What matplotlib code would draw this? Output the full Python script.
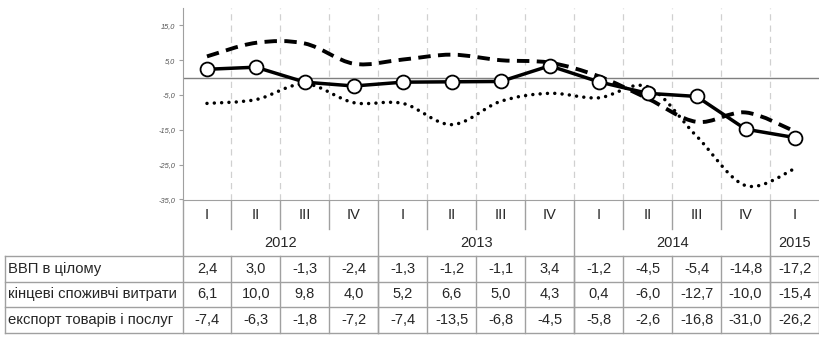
import numpy as np
import matplotlib.pyplot as plt
from matplotlib.path import Path
from matplotlib.patches import PathPatch

plt.rcParams['font.family'] = ['Liberation Sans', 'DejaVu Sans']

quarters = ["I", "II", "III", "IV", "I", "II", "III", "IV", "I", "II", "III", "IV", "I"]
years = ["2012", "2013", "2014", "2015"]
year_span = [4, 4, 4, 1]
row_names = ["ВВП в цілому", "кінцеві споживчі витрати", "експорт товарів і послуг"]
gdp = [2.4, 3.0, -1.3, -2.4, -1.3, -1.2, -1.1, 3.4, -1.2, -4.5, -5.4, -14.8, -17.2]
consumption = [6.1, 10.0, 9.8, 4.0, 5.2, 6.6, 5.0, 4.3, 0.4, -6.0, -12.7, -10.0, -15.4]
export = [-7.4, -6.3, -1.8, -7.2, -7.4, -13.5, -6.8, -4.5, -5.8, -2.6, -16.8, -31.0, -26.2]
yticks = [15, 5, -5, -15, -25, -35]


def fmt(v):
    return ("%.1f" % v).replace(".", ",")


def smooth_path(xs, ys):
    # excel-like smoothed line: bezier segments through the points
    p = np.column_stack([xs, ys]).astype(float)
    n = len(p)
    verts = [p[0]]
    codes = [Path.MOVETO]
    for i in range(n - 1):
        p0 = p[i - 1] if i > 0 else p[i]
        p3 = p[i + 2] if i + 2 < n else p[i + 1]
        c1 = p[i] + (p[i + 1] - p0) / 6
        c2 = p[i + 1] - (p3 - p[i]) / 6
        verts += [c1, c2, p[i + 1]]
        codes += [Path.CURVE4] * 3
    return Path(verts, codes)


W, H = 819, 340
top, bottom, left = 8, 199.5, 182.5
colw = (W - left) / len(quarters)
grey = "#a0a0a0"
txt = "#262626"

fig = plt.figure(figsize=(W / 100, H / 100), dpi=100)
ax = fig.add_axes([left / W, 1 - bottom / H, (W - left) / W, (bottom - top) / H])
x = np.arange(len(quarters))

ax.add_patch(PathPatch(smooth_path(x, consumption), fill=False, color="black", lw=2.8,
                       linestyle=(0, (3.2, 1.9)), capstyle="butt", zorder=3))
ax.add_patch(PathPatch(smooth_path(x, export), fill=False, color="black", lw=2.5,
                       linestyle=(0, (0.01, 2.1)), capstyle="round", zorder=3))
ax.plot(x, gdp, color="black", lw=2.5, marker="o", ms=10, mfc="white", mec="black",
        mew=1.3, zorder=4)

ax.axhline(0, color="#7f7f7f", lw=1, zorder=2)
for xv in x[:-1] + 0.5:
    ax.axvline(xv, color="#d0d0d0", lw=0.9, ls=(0, (5, 4)), zorder=1)

ax.set_xlim(-0.5, len(quarters) - 0.5)
ax.set_ylim(-35, 20)
ax.set_xticks([])
ax.set_yticks(yticks)
ax.set_yticklabels([fmt(v) for v in yticks], fontsize=5.3, style="italic", color="#555555")
ax.tick_params(axis="y", length=3, width=0.8, color=grey, pad=2)
for s in ["top", "right"]:
    ax.spines[s].set_visible(False)
ax.spines["left"].set_color(grey)
ax.spines["bottom"].set_color(grey)

# table under the chart (y in pixels from the top)
tab = fig.add_axes([0, 0, 1, 1 - bottom / H])
tab.set_xlim(-0.5 - left / colw, len(quarters) - 0.5)
tab.set_ylim(H, bottom)
tab.axis("off")
lab_left = -0.5 - (left - 5) / colw
rows = [256, 281.5, 307, 333]

for i, q in enumerate(quarters):
    tab.text(i, 215, q, ha="center", va="center", fontsize=10.5, color=txt)

start = 0
for yr, span in zip(years, year_span):
    tab.text(start + span / 2 - 0.5, 243, yr, ha="center", va="center", fontsize=10.5,
             color=txt)
    tab.plot([start - 0.5, start - 0.5], [bottom, rows[-1]], color=grey, lw=1)
    for k in range(1, span):
        tab.plot([start + k - 0.5] * 2, [bottom, 229], color=grey, lw=1)
    start += span

for yv in rows:
    tab.plot([lab_left, len(quarters) - 0.5], [yv, yv], color=grey, lw=1, clip_on=False)
tab.plot([lab_left, lab_left], [rows[0], rows[-1]], color=grey, lw=1)
for i in range(len(quarters)):
    tab.plot([i + 0.5, i + 0.5], [rows[0], rows[-1]], color=grey, lw=1)

for r, (name, vals) in enumerate(zip(row_names, [gdp, consumption, export])):
    yc = (rows[r] + rows[r + 1]) / 2
    tab.text(lab_left + 0.06, yc, name, ha="left", va="center", fontsize=10.7, color=txt)
    for i, v in enumerate(vals):
        tab.text(i, yc, fmt(v), ha="center", va="center", fontsize=10.5, color=txt)

fig.savefig("out.png", dpi=100, facecolor="white")
